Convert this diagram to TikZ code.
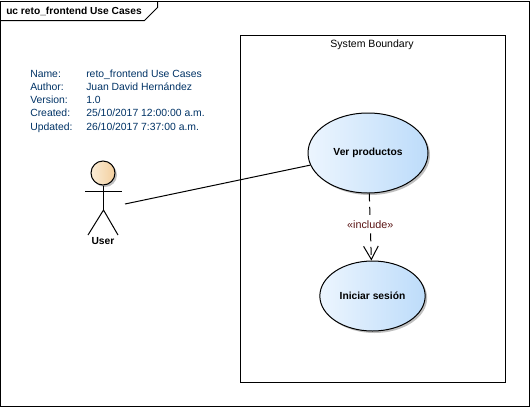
\documentclass[tikz,border=0pt]{standalone}
\usepackage{fontspec}
\setmainfont{Liberation Sans}
\usepackage{color}
\usetikzlibrary{arrows.meta, shapes.geometric, shadows}
\definecolor{metatext}{RGB}{0,51,102}
\definecolor{includetext}{RGB}{90,20,20}
\definecolor{usecaseleft}{RGB}{236,245,254}
\definecolor{usecaseright}{RGB}{189,220,250}
\definecolor{actorleft}{RGB}{250,236,214}
\definecolor{actorright}{RGB}{243,207,158}
\tikzset{
    umlline/.style={draw=black, line width=0.75pt},
    usecase/.style={ellipse, draw=black, line width=0.75pt, inner sep=0pt, left color=usecaseleft, right color=usecaseright,
        drop shadow={shadow xshift=1.5pt, shadow yshift=-1.5pt, opacity=0.25, fill=black}, font=\fontsize{7.7}{10}\selectfont\bfseries},
    actorhead/.style={circle, draw=black, line width=0.75pt, minimum size=18pt, inner sep=0pt, left color=actorleft, right color=actorright,
        drop shadow={shadow xshift=1.5pt, shadow yshift=-1.5pt, opacity=0.25, fill=black}},
    metaline/.style={anchor=base west, inner sep=0pt, text=metatext, font=\fontsize{7.8}{10}\selectfont}
}

\begin{document}
\begin{tikzpicture}[x=0.75pt, y=-0.75pt]
    \useasboundingbox (0,0) rectangle (530,407);
    \fill[white] (0,0) rectangle (530,407);

    % Draw diagram frame and its tab
    \draw[umlline] (0.5,1.5) rectangle (529.5,406.5);
    \draw[umlline] (0.5,20.5) -- (144.5,20.5) -- (157.5,7.5) -- (157.5,1.5);
    \node[anchor=base west, inner sep=0pt, font=\fontsize{7.65}{10}\selectfont\bfseries] (title) at (6,14) {uc reto\_frontend Use Cases};

    % Draw system boundary
    \draw[umlline] (240.5,35.5) rectangle (505.5,382.5);
    \node[inner sep=0pt, font=\fontsize{7.9}{10}\selectfont] (boundary) at (372,45) {System Boundary};

    % Add metadata lines
    \foreach \i/\y/\key/\val in {a/77/Name:/reto\_frontend Use Cases,
                                 b/90/Author:/Juan David Hernández,
                                 c/103/Version:/1.0,
                                 d/116/Created:/{25/10/2017 12:00:00 a.m.},
                                 e/130/Updated:/{26/10/2017 7:37:00 a.m.}}
    {
        \node[metaline] (key\i) at (30,\y) {\key};
        \node[metaline] (val\i) at (86,\y) {\val};
    }

    % Draw actor
    \node[actorhead] (head) at (103,173) {};
    \coordinate (armleft) at (85,191.5);
    \coordinate (armright) at (122,191.5);
    \coordinate (hip) at (103.5,210);
    \coordinate (footleft) at (88,235);
    \coordinate (footright) at (118,235);
    \coordinate (actorend) at (125,204);
    \draw[umlline] (head.south -| hip) -- (hip);
    \draw[umlline] (armleft) -- (armright);
    \draw[umlline] (footleft) -- (hip) -- (footright);
    \node[inner sep=0pt, font=\fontsize{7.7}{10}\selectfont\bfseries] (user) at (103,241) {User};

    % Draw use cases
    \node[usecase, minimum width=90pt, minimum height=60pt] (ver) at (368,153) {Ver productos};
    \node[usecase, minimum width=79pt, minimum height=52.5pt] (iniciar) at (372.5,296) {Iniciar sesión};

    % Draw connectors
    \draw[umlline] (actorend) -- (ver);
    \draw[umlline, dash pattern=on 6pt off 4pt, -{Straight Barb[length=10pt, width=11pt, line width=0.75pt]}] (ver) -- (iniciar)
        node[pos=0.46, fill=white, inner sep=1pt, text=includetext, font=\fontsize{8.1}{10}\selectfont] (include) {«include»};
\end{tikzpicture}
\end{document}
